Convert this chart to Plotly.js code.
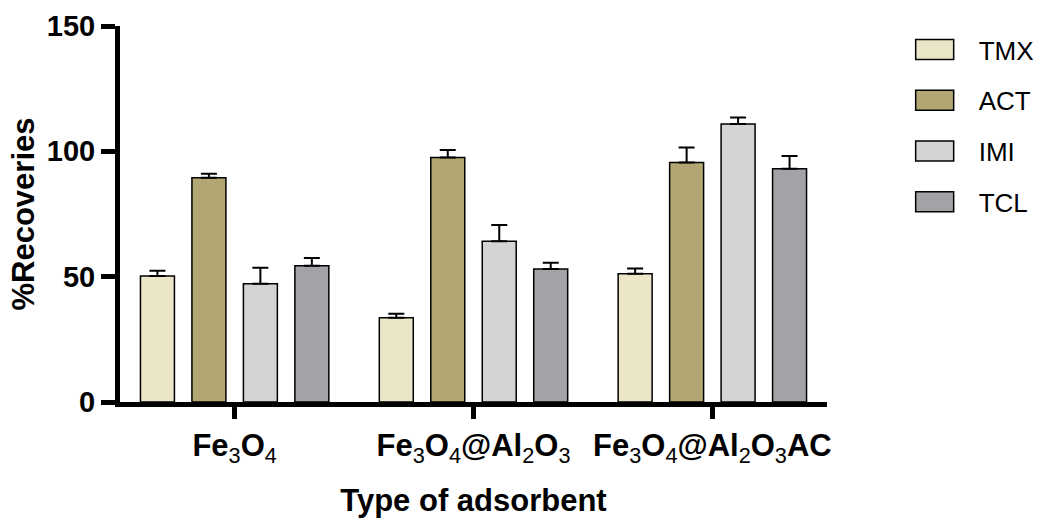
<!DOCTYPE html>
<html><head><meta charset="utf-8">
<script src="https://cdn.plot.ly/plotly-3.0.1.min.js"></script>
<style>html,body{margin:0;padding:0;background:#fff}</style>
</head><body><div id="chart" style="width:1041px;height:518px"></div>
<script>
const S = d => '<sub><span style="font-weight:normal">' + d + '</span></sub>';
const categories = ["Fe" + S(3) + "O" + S(4), "Fe" + S(3) + "O" + S(4) + "@Al" + S(2) + "O" + S(3), "Fe" + S(3) + "O" + S(4) + "@Al" + S(2) + "O" + S(3) + "AC"];
const seriesNames = ["TMX", "ACT", "IMI", "TCL"];
const TMX = [50.3, 33.6, 51.2];
const TMX_err = [2.1, 1.6, 2.1];
const ACT = [89.5, 97.5, 95.5];
const ACT_err = [1.6, 3.0, 6.0];
const IMI = [47.2, 64.1, 110.9];
const IMI_err = [6.4, 6.5, 2.6];
const TCL = [54.4, 53.1, 93.1];
const TCL_err = [3.0, 2.5, 5.0];
const colors = ["#ECE6C8", "#B2A773", "#D4D4D4", "#A3A2A7"];
const values = [TMX, ACT, IMI, TCL];
const errs = [TMX_err, ACT_err, IMI_err, TCL_err];
const xIdx = categories.map((c, i) => i);

const traces = seriesNames.map((n, k) => ({
  type: "bar", name: n, x: xIdx, y: values[k], legendgroup: n,
  marker: {color: colors[k], line: {color: "#000", width: 1.5}},
  error_y: {type: "data", array: errs[k], arrayminus: errs[k].map(() => 0), symmetric: false,
            color: "#000", thickness: 2, width: 8},
  hoverinfo: "skip"
}));

const F = "Arial, 'Liberation Sans', sans-serif";
const layout = {
  width: 1041, height: 518,
  margin: {l: 120, r: 214, t: 26, b: 116},
  paper_bgcolor: "#fff", plot_bgcolor: "#fff",
  barmode: "group", bargap: 0.138, bargroupgap: 0.34,
  showlegend: true,
  legend: {x: 1.124, y: 1.0, xanchor: "left", yanchor: "top",
           font: {family: F, size: 26, color: "#000"}, tracegroupgap: 14, itemsizing: "constant"},
  xaxis: {
    range: [-0.48, 2.48], tickvals: xIdx, ticktext: categories, automargin: false,
    showline: true, linecolor: "#000", linewidth: 5,
    ticks: "outside", ticklen: 12, tickwidth: 5, tickcolor: "#000",
    showgrid: false, zeroline: false,
    tickfont: {family: F, size: 31, color: "#000", weight: "bold"},
    title: {text: "<b>Type of adsorbent</b>", font: {family: F, size: 31, color: "#000"}, standoff: 26}
  },
  yaxis: {
    range: [0, 150], tickvals: [0, 50, 100, 150], automargin: false,
    showline: true, linecolor: "#000", linewidth: 5,
    ticks: "outside", ticklen: 14, tickwidth: 5, tickcolor: "#000",
    showgrid: false, zeroline: false,
    tickfont: {family: F, size: 29, color: "#000", weight: "bold"},
    title: {text: "<b>%Recoveries</b>", font: {family: F, size: 31, color: "#000"}, standoff: 4}
  }
};
Plotly.newPlot("chart", traces, layout, {displayModeBar: false, staticPlot: true}).then(gd => {
  // enlarge legend swatches to wide rectangles like the reference, text shifted right
  gd.querySelectorAll(".legend [clip-path]").forEach(e => e.removeAttribute("clip-path"));
  gd.querySelectorAll(".legendpoints path").forEach(p => {
    p.setAttribute("d", "M-19,-10H19V10H-19Z");
    p.style.strokeWidth = "1.5px";
  });
  gd.querySelectorAll(".legendtext").forEach(t => {
    const x = parseFloat(t.getAttribute("x") || "0");
    t.setAttribute("x", x + 24);
  });
});
</script></body></html>
